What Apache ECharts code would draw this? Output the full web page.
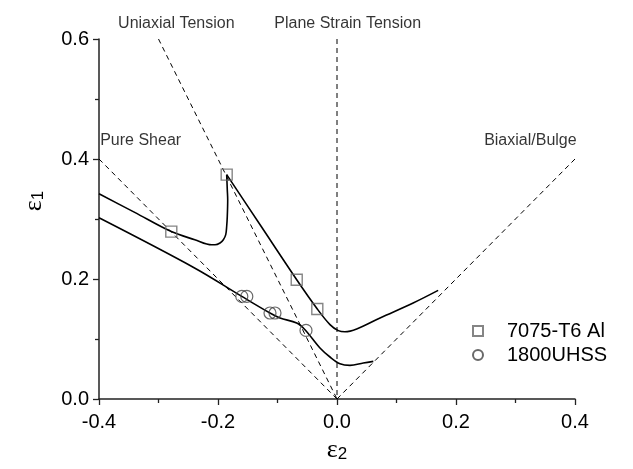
<!DOCTYPE html>
<html>
<head>
<meta charset="utf-8">
<script src="https://cdn.jsdelivr.net/npm/echarts@6/dist/echarts.min.js"></script>
<style>html,body{margin:0;padding:0;background:#fff}#c{width:633px;height:469px}</style>
</head>
<body>
<div id="c"></div>
<script>
// Reference strain paths (dashed)
const uniaxialLine = [[-0.3, 0.6], [0, 0]];
const planeStrainLine = [[0, 0.6], [0, 0]];
const pureShearLine = [[-0.4, 0.4], [0, 0]];
const biaxialLine = [[0.4, 0.4], [0, 0]];

// 7075-T6 Al forming limit curve (two branches meeting at the cusp)
const al7075CurveLeft = [
  [-0.4, 0.342], [-0.34, 0.311], [-0.2785, 0.279], [-0.239, 0.2655], [-0.2106, 0.257],
  [-0.205, 0.257], [-0.1966, 0.260], [-0.191, 0.2655], [-0.187, 0.274], [-0.1854, 0.288],
  [-0.1844, 0.304], [-0.1837, 0.332], [-0.1844, 0.349], [-0.1854, 0.374]
];
const al7075CurveRight = [
  [-0.1854, 0.374], [-0.127, 0.287], [-0.0677, 0.1988], [-0.0331, 0.150], [-0.0118, 0.124],
  [0.0022, 0.114], [0.0134, 0.112], [0.0331, 0.1167], [0.0723, 0.135], [0.128, 0.160], [0.170, 0.181]
];
const al7075Points = [[-0.2785, 0.279], [-0.1854, 0.374], [-0.0677, 0.1988], [-0.0331, 0.150]];

// 1800UHSS forming limit curve
const uhssCurve = [
  [-0.4, 0.302], [-0.2387, 0.218], [-0.160, 0.171], [-0.1126, 0.1433], [-0.0958, 0.135],
  [-0.0677, 0.1267], [-0.0538, 0.1155], [-0.0286, 0.085], [-0.0118, 0.070], [0.005, 0.0588],
  [0.0218, 0.056], [0.0442, 0.060], [0.061, 0.0627]
];
const uhssPoints = [[-0.160, 0.171], [-0.1516, 0.171], [-0.1126, 0.1433], [-0.1042, 0.1433], [-0.0521, 0.1143]];

const seriesNames = ['7075-T6 Al', '1800UHSS'];
const annotationTexts = ['Uniaxial Tension', 'Plane Strain Tension', 'Pure Shear', 'Biaxial/Bulge'];
const annotationAnchors = [[-0.27, 0.625], [0.018, 0.625], [-0.33, 0.43], [0.325, 0.43]];

const FONT = 'Liberation Sans, Arial, sans-serif';
const chart = echarts.init(document.getElementById('c'));

function dashed(data) {
  return { type: 'line', data, symbol: 'none', silent: true,
    lineStyle: { color: '#000', width: 1, type: [5, 4] } };
}
function solid(data) {
  return { type: 'line', data, symbol: 'none', smooth: 0.35, smoothMonotone: null, silent: true,
    lineStyle: { color: '#000', width: 1.6 } };
}

chart.setOption({
  animation: false,
  grid: { left: 99, right: 58, top: 39, bottom: 70, containLabel: false },
  xAxis: {
    type: 'value', min: -0.4, max: 0.4, interval: 0.2,
    name: '{e|ε}{s|2}', nameLocation: 'middle', nameGap: 33,
    nameTextStyle: { rich: {
      e: { fontSize: 26, fontFamily: 'Liberation Serif, serif', color: '#000', lineHeight: 26 },
      s: { fontSize: 17, fontFamily: FONT, color: '#000', verticalAlign: 'bottom', lineHeight: 14 }
    } },
    axisLine: { show: true, onZero: false, lineStyle: { color: '#222', width: 1.5 } },
    axisTick: { show: true, inside: false, length: 6, lineStyle: { color: '#222', width: 1.3 } },
    minorTick: { show: true, splitNumber: 2, length: 4, lineStyle: { color: '#222', width: 1.3 } },
    splitLine: { show: false },
    axisLabel: { fontSize: 20, fontFamily: FONT, color: '#000', margin: 13,
      formatter: v => v.toFixed(1) }
  },
  yAxis: {
    type: 'value', min: 0, max: 0.6, interval: 0.2,
    name: '{e|ε}{s|1}', nameLocation: 'middle', nameGap: 52, nameRotate: 90,
    nameTextStyle: { padding: [0, 0, 0, 36], rich: {
      e: { fontSize: 26, fontFamily: 'Liberation Serif, serif', color: '#000', lineHeight: 26 },
      s: { fontSize: 17, fontFamily: FONT, color: '#000', verticalAlign: 'bottom', lineHeight: 14 }
    } },
    axisLine: { show: true, onZero: false, lineStyle: { color: '#222', width: 1.5 } },
    axisTick: { show: true, inside: false, length: 6, lineStyle: { color: '#222', width: 1.3 } },
    minorTick: { show: true, splitNumber: 2, length: 4, lineStyle: { color: '#222', width: 1.3 } },
    splitLine: { show: false },
    axisLabel: { fontSize: 20, fontFamily: FONT, color: '#000', margin: 10,
      formatter: v => v.toFixed(1) }
  },
  legend: {
    orient: 'vertical', left: 467, top: 316, itemWidth: 10, itemHeight: 10, itemGap: 4,
    data: seriesNames,
    textStyle: { fontSize: 20, fontFamily: FONT, color: '#000', lineHeight: 20, padding: [0, 0, 0, 19] }
  },
  series: [
    dashed(uniaxialLine), dashed(planeStrainLine), dashed(pureShearLine), dashed(biaxialLine),
    solid(al7075CurveLeft), solid(al7075CurveRight), solid(uhssCurve),
    { name: seriesNames[0], type: 'scatter', data: al7075Points, symbol: 'rect', symbolSize: 11,
      itemStyle: { color: 'rgba(0,0,0,0)', borderColor: '#666', borderWidth: 1.4 }, z: 5 },
    { name: seriesNames[1], type: 'scatter', data: uhssPoints, symbol: 'circle', symbolSize: 12,
      itemStyle: { color: 'rgba(0,0,0,0)', borderColor: '#444', borderWidth: 1.2 }, z: 5 },
    { type: 'scatter', symbolSize: 0, silent: true, clip: false,
      data: annotationAnchors.map((p, i) => ({ value: p, name: annotationTexts[i] })),
      label: { show: true, position: 'inside', formatter: p => p.name,
        fontSize: 16, fontFamily: FONT, color: '#000' } }
  ]
});
</script>
</body>
</html>
